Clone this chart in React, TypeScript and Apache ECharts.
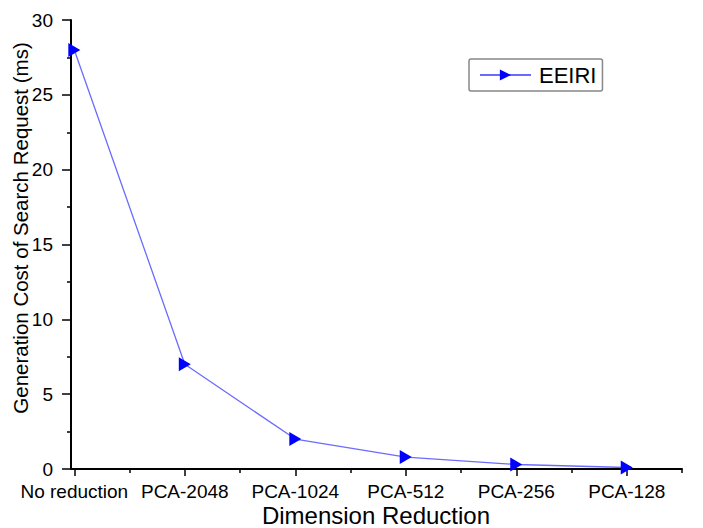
import React, { useEffect, useRef } from "react";
import * as echarts from "echarts";

const categories = ["No reduction", "PCA-2048", "PCA-1024", "PCA-512", "PCA-256", "PCA-128"];
const eeiriValues = [28, 7, 2, 0.8, 0.3, 0.1];
const seriesName = "EEIRI";
const yAxisTitle = "Generation Cost of Search Request (ms)";
const xAxisTitle = "Dimension Reduction";
const yMin = 0;
const yMax = 30;
const yInterval = 5;

const majorTickValues = categories.map((_, i) => i);
const minorTickValues = categories.map((_, i) => i + 0.5);

export default function App() {
  const ref = useRef<HTMLDivElement>(null);
  useEffect(() => {
    if (!ref.current) return;
    const chart = echarts.init(ref.current, null, { renderer: "svg" });
    const font = "'Liberation Sans', Arial, sans-serif";
    const xMin = -0.03;
    const xMax = 5.5;
    chart.setOption({
      animation: false,
      backgroundColor: "#ffffff",
      textStyle: { fontFamily: font, color: "#000" },
      grid: { left: 71, top: 20, right: 21, bottom: 59, containLabel: false },
      legend: {
        show: true,
        left: 469,
        top: 59,
        orient: "horizontal",
        padding: [5, 6, 5, 10],
        itemWidth: 51,
        itemHeight: 14,
        borderColor: "#888",
        borderWidth: 1.5,
        borderRadius: 2,
        textStyle: { fontFamily: font, fontSize: 22, color: "#000", padding: [0, 0, 0, 3] },
        data: [seriesName],
      },
      xAxis: [
        {
          type: "value",
          min: xMin,
          max: xMax,
          position: "bottom",
          axisLine: { show: true, onZero: false, lineStyle: { color: "#000", width: 2 } },
          axisTick: {
            show: true,
            inside: false,
            length: 7,
            customValues: majorTickValues,
            lineStyle: { color: "#000", width: 1.5 },
          },
          axisLabel: {
            show: true,
            customValues: majorTickValues,
            margin: 13,
            fontSize: 19,
            fontFamily: font,
            color: "#000",
            formatter: (v: number) => categories[Math.round(v)] ?? "",
          },
          splitLine: { show: false },
        },
        {
          type: "value",
          min: xMin,
          max: xMax,
          position: "bottom",
          axisLine: { show: false, onZero: false },
          axisTick: {
            show: true,
            inside: false,
            length: 4,
            customValues: minorTickValues,
            lineStyle: { color: "#000", width: 1.5 },
          },
          axisLabel: { show: false },
          splitLine: { show: false },
        },
      ],
      yAxis: {
        type: "value",
        min: yMin,
        max: yMax,
        interval: yInterval,
        axisLine: { show: true, onZero: false, lineStyle: { color: "#000", width: 2 } },
        axisTick: { show: true, inside: false, length: 9, lineStyle: { color: "#000", width: 1.5 } },
        minorTick: { show: true, splitNumber: 2, length: 4, lineStyle: { color: "#000", width: 1.5 } },
        axisLabel: { margin: 18, fontSize: 19, fontFamily: font, color: "#000" },
        splitLine: { show: false },
      },
      graphic: [
        {
          type: "text",
          x: 20,
          y: 228,
          rotation: Math.PI / 2,
          style: {
            text: yAxisTitle,
            font: `20.5px ${font}`,
            fill: "#000",
            align: "center",
            verticalAlign: "middle",
          },
        },
        {
          type: "text",
          x: 376,
          y: 515,
          style: {
            text: xAxisTitle,
            font: `24px ${font}`,
            fill: "#000",
            align: "center",
            verticalAlign: "middle",
          },
        },
      ],
      series: [
        {
          name: seriesName,
          type: "line",
          xAxisIndex: 0,
          data: eeiriValues.map((v, i) => [i, v]),
          symbol: "triangle",
          symbolRotate: -90,
          symbolSize: [14, 12],
          showSymbol: true,
          lineStyle: { color: "#6b6bff", width: 1.3 },
          itemStyle: { color: "#0000ff", borderWidth: 0 },
          emphasis: { disabled: true },
        },
      ],
    });
    return () => chart.dispose();
  }, []);
  return (
    <div
      ref={ref}
      style={{ position: "fixed", left: 0, top: 0, width: 703, height: 528, background: "#fff" }}
    />
  );
}
